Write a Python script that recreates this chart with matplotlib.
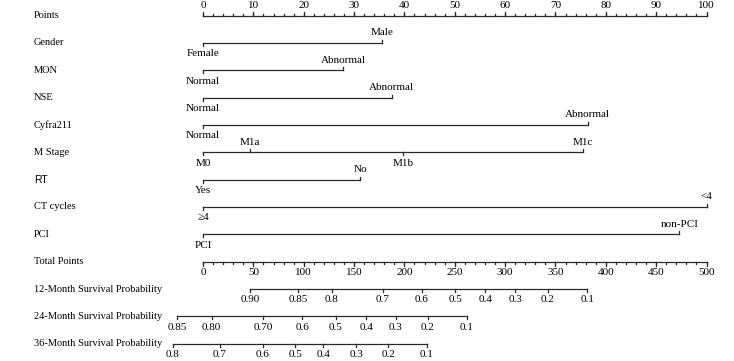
import matplotlib.pyplot as plt
import matplotlib.transforms as mtransforms
import numpy as np

plt.rcParams['font.family'] = ['Liberation Serif', 'DejaVu Serif']

# ---- data ----
points_ticks = np.arange(0, 101, 10)
points_minor = np.arange(0, 101, 2)
total_ticks = np.arange(0, 501, 50)
total_minor = np.arange(0, 501, 10)

gender_levels = ['Female', 'Male']
gender_pts = [0, 35.5]
mon_levels = ['Normal', 'Abnormal']
mon_pts = [0, 27.9]
nse_levels = ['Normal', 'Abnormal']
nse_pts = [0, 37.5]
cyfra_levels = ['Normal', 'Abnormal']
cyfra_pts = [0, 76.4]
mstage_levels = ['M0', 'M1a', 'M1b', 'M1c']
mstage_pts = [0, 9.3, 39.8, 75.5]
rt_levels = ['Yes', 'No']
rt_pts = [0, 31.2]
ct_levels = ['\u22654', '<4']
ct_pts = [0, 100]
pci_levels = ['PCI', 'non-PCI']
pci_pts = [0, 94.6]

surv12_labels = ['0.90', '0.85', '0.8', '0.7', '0.6', '0.5', '0.4', '0.3', '0.2', '0.1']
surv12_total = [46.7, 94.1, 128, 178.6, 217.4, 250.5, 280.3, 310, 342.2, 381.4]
surv24_labels = ['0.85', '0.80', '0.70', '0.6', '0.5', '0.4', '0.3', '0.2', '0.1']
surv24_total = [-25.5, 8.6, 59.9, 98.7, 131.7, 162, 191.5, 223, 262]
surv36_labels = ['0.8', '0.7', '0.6', '0.5', '0.4', '0.3', '0.2', '0.1']
surv36_total = [-30.1, 16.9, 59.3, 91.4, 119.6, 152, 184.2, 222.4]

variables = [
    ('Gender', gender_levels, gender_pts),
    ('MON', mon_levels, mon_pts),
    ('NSE', nse_levels, nse_pts),
    ('Cyfra211', cyfra_levels, cyfra_pts),
    ('M Stage', mstage_levels, mstage_pts),
    ('RT', rt_levels, rt_pts),
    ('CT cycles', ct_levels, ct_pts),
    ('PCI', pci_levels, pci_pts),
]
survivals = [
    ('12-Month Survival Probability', surv12_labels, surv12_total),
    ('24-Month Survival Probability', surv24_labels, surv24_total),
    ('36-Month Survival Probability', surv36_labels, surv36_total),
]

# ---- drawing ----
fs_row = 7.5
fs_tick = 8
lc = '#2a2a2a'
lw = 0.9
row_px = 27.35

fig = plt.figure(figsize=(7.34, 3.61), dpi=100)
ax = fig.add_axes([0, 0, 1, 1])
ax.axis('off')
ax.set_xlim(-40.32, 105.46)
ax.set_ylim(12.63, -0.567)
lab_tr = mtransforms.blended_transform_factory(ax.transAxes, ax.transData)


def px(n):
    return n / row_px


def row_label(row, name, family=None):
    ax.text(34 / 734, row, name, transform=lab_tr, ha='left', va='center',
            fontsize=fs_row, family=family)


def tick_label(x, row, s, above):
    ax.annotate(s, (x, row), xytext=(0, 7.2 if above else -7.8),
                textcoords='offset points', ha='center', va='center', fontsize=fs_tick)


# Points scale
row_label(0, 'Points')
ax.plot([0, 100], [0, 0], color=lc, lw=lw)
for t in points_minor:
    ax.plot([t, t], [0, -px(2)], color=lc, lw=lw)
for t in points_ticks:
    ax.plot([t, t], [0, -px(4)], color=lc, lw=lw)
    tick_label(t, 0, str(t), True)

# Predictor scales
for i, (name, levels, pts) in enumerate(variables):
    row = i + 1
    row_label(row, name, family='Liberation Sans' if name == 'RT' else None)
    ax.plot([min(pts), max(pts)], [row, row], color=lc, lw=lw)
    for j, (lev, p) in enumerate(zip(levels, pts)):
        above = j % 2 == 1
        ax.plot([p, p], [row, row + (-px(3) if above else px(3))], color=lc, lw=lw)
        tick_label(p, row, lev, above)

# Total points scale (500 total points = 100 points)
row = len(variables) + 1
row_label(row, 'Total Points')
ax.plot([0, 100], [row, row], color=lc, lw=lw)
for t in total_minor:
    ax.plot([t / 5, t / 5], [row, row + px(2)], color=lc, lw=lw)
for t in total_ticks:
    ax.plot([t / 5, t / 5], [row, row + px(4)], color=lc, lw=lw)
    tick_label(t / 5, row, str(t), False)

# Survival probability scales
for k, (name, labels, totals) in enumerate(survivals):
    row = len(variables) + 2 + k
    row_label(row, name)
    xs = np.array(totals) / 5
    ax.plot([xs.min(), xs.max()], [row, row], color=lc, lw=lw)
    for x, s in zip(xs, labels):
        ax.plot([x, x], [row, row + px(3)], color=lc, lw=lw)
        tick_label(x, row, s, False)

fig.savefig('out.png', dpi=100, facecolor='white')
